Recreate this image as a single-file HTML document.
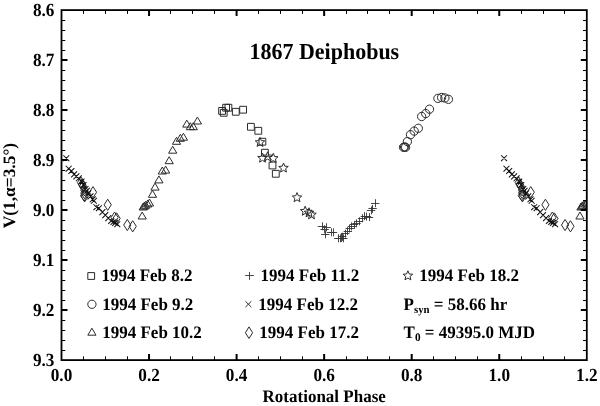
<!DOCTYPE html>
<html><head><meta charset="utf-8"><style>
html,body{margin:0;padding:0;background:#fff;}
svg{display:block;filter:grayscale(1);text-rendering:geometricPrecision;}
</style></head><body>
<svg width="600" height="406" viewBox="0 0 600 406">
<rect width="600" height="406" fill="#fff"/>
<defs><clipPath id="c"><rect x="61.50" y="10.10" width="525.30" height="350.00"/></clipPath></defs>
<g clip-path="url(#c)"><path d="M218.70 107.50h6.8v6.8h-6.8zM220.35 109.40h6.8v6.8h-6.8zM222.70 104.30h6.8v6.8h-6.8zM225.00 104.30h6.8v6.8h-6.8zM232.40 108.40h6.8v6.8h-6.8zM239.70 106.30h6.8v6.8h-6.8zM247.50 123.40h6.8v6.8h-6.8zM254.90 127.40h6.8v6.8h-6.8zM259.00 138.30h6.8v6.8h-6.8zM261.50 149.30h6.8v6.8h-6.8zM269.10 162.10h6.8v6.8h-6.8zM272.40 170.40h6.8v6.8h-6.8zM433.75 98.40a4.15 4.15 0 1 0 8.3 0a4.15 4.15 0 1 0 -8.3 0zM437.45 97.50a4.15 4.15 0 1 0 8.3 0a4.15 4.15 0 1 0 -8.3 0zM440.75 98.00a4.15 4.15 0 1 0 8.3 0a4.15 4.15 0 1 0 -8.3 0zM444.25 99.30a4.15 4.15 0 1 0 8.3 0a4.15 4.15 0 1 0 -8.3 0zM425.35 109.20a4.15 4.15 0 1 0 8.3 0a4.15 4.15 0 1 0 -8.3 0zM421.55 113.60a4.15 4.15 0 1 0 8.3 0a4.15 4.15 0 1 0 -8.3 0zM417.50 116.50a4.15 4.15 0 1 0 8.3 0a4.15 4.15 0 1 0 -8.3 0zM414.15 128.30a4.15 4.15 0 1 0 8.3 0a4.15 4.15 0 1 0 -8.3 0zM410.05 131.10a4.15 4.15 0 1 0 8.3 0a4.15 4.15 0 1 0 -8.3 0zM406.35 134.70a4.15 4.15 0 1 0 8.3 0a4.15 4.15 0 1 0 -8.3 0zM403.25 141.60a4.15 4.15 0 1 0 8.3 0a4.15 4.15 0 1 0 -8.3 0zM399.35 147.30a4.15 4.15 0 1 0 8.3 0a4.15 4.15 0 1 0 -8.3 0zM400.45 147.00a4.15 4.15 0 1 0 8.3 0a4.15 4.15 0 1 0 -8.3 0zM401.45 147.30a4.15 4.15 0 1 0 8.3 0a4.15 4.15 0 1 0 -8.3 0zM197.40 117.00L201.50 124.00H193.30zM186.80 120.10L190.90 127.10H182.70zM190.30 122.70L194.40 129.70H186.20zM193.30 122.70L197.40 129.70H189.20zM183.40 133.20L187.50 140.20H179.30zM180.30 134.30L184.40 141.30H176.20zM176.50 137.30L180.60 144.30H172.40zM172.70 146.20L176.80 153.20H168.60zM169.20 156.70L173.30 163.70H165.10zM165.60 166.10L169.70 173.10H161.50zM162.30 167.00L166.40 174.00H158.20zM158.90 175.90L163.00 182.90H154.80zM155.00 183.10L159.10 190.10H150.90zM592.75 183.10L596.85 190.10H588.65zM152.50 190.30L156.60 197.30H148.40zM590.25 190.30L594.35 197.30H586.15zM149.50 199.00L153.60 206.00H145.40zM587.25 199.00L591.35 206.00H583.15zM147.70 200.00L151.80 207.00H143.60zM585.45 200.00L589.55 207.00H581.35zM145.60 201.30L149.70 208.30H141.50zM583.35 201.30L587.45 208.30H579.25zM144.30 202.20L148.40 209.20H140.20zM582.05 202.20L586.15 209.20H577.95zM143.20 203.00L147.30 210.00H139.10zM580.95 203.00L585.05 210.00H576.85zM142.20 212.00L146.30 219.00H138.10zM579.95 212.00L584.05 219.00H575.85zM81.00 176.90L84.60 182.50L81.00 188.10L77.40 182.50zM518.75 176.90L522.35 182.50L518.75 188.10L515.15 182.50zM82.00 178.90L85.60 184.50L82.00 190.10L78.40 184.50zM519.75 178.90L523.35 184.50L519.75 190.10L516.15 184.50zM83.00 180.70L86.60 186.30L83.00 191.90L79.40 186.30zM520.75 180.70L524.35 186.30L520.75 191.90L517.15 186.30zM84.30 184.70L87.90 190.30L84.30 195.90L80.70 190.30zM522.05 184.70L525.65 190.30L522.05 195.90L518.45 190.30zM84.40 187.40L88.00 193.00L84.40 198.60L80.80 193.00zM522.15 187.40L525.75 193.00L522.15 198.60L518.55 193.00zM84.10 189.90L87.70 195.50L84.10 201.10L80.50 195.50zM521.85 189.90L525.45 195.50L521.85 201.10L518.25 195.50zM84.70 190.70L88.30 196.30L84.70 201.90L81.10 196.30zM522.45 190.70L526.05 196.30L522.45 201.90L518.85 196.30zM93.00 186.60L96.60 192.20L93.00 197.80L89.40 192.20zM530.75 186.60L534.35 192.20L530.75 197.80L527.15 192.20zM107.70 199.20L111.30 204.80L107.70 210.40L104.10 204.80zM545.45 199.20L549.05 204.80L545.45 210.40L541.85 204.80zM114.60 212.00L118.20 217.60L114.60 223.20L111.00 217.60zM552.35 212.00L555.95 217.60L552.35 223.20L548.75 217.60zM116.60 212.80L120.20 218.40L116.60 224.00L113.00 218.40zM554.35 212.80L557.95 218.40L554.35 224.00L550.75 218.40zM127.30 219.40L130.90 225.00L127.30 230.60L123.70 225.00zM565.05 219.40L568.65 225.00L565.05 230.60L561.45 225.00zM132.70 220.70L136.30 226.30L132.70 231.90L129.10 226.30zM570.45 220.70L574.05 226.30L570.45 231.90L566.85 226.30zM260.00 137.40L261.32 140.58L264.76 140.85L262.14 143.10L262.94 146.45L260.00 144.65L257.06 146.45L257.86 143.10L255.24 140.85L258.68 140.58zM262.50 153.10L263.82 156.28L267.26 156.55L264.64 158.80L265.44 162.15L262.50 160.35L259.56 162.15L260.36 158.80L257.74 156.55L261.18 156.28zM267.60 151.80L268.92 154.98L272.36 155.25L269.74 157.50L270.54 160.85L267.60 159.05L264.66 160.85L265.46 157.50L262.84 155.25L266.28 154.98zM273.30 153.30L274.62 156.48L278.06 156.75L275.44 159.00L276.24 162.35L273.30 160.55L270.36 162.35L271.16 159.00L268.54 156.75L271.98 156.48zM283.50 163.00L284.82 166.18L288.26 166.45L285.64 168.70L286.44 172.05L283.50 170.25L280.56 172.05L281.36 168.70L278.74 166.45L282.18 166.18zM297.00 192.60L298.32 195.78L301.76 196.05L299.14 198.30L299.94 201.65L297.00 199.85L294.06 201.65L294.86 198.30L292.24 196.05L295.68 195.78zM305.20 206.20L306.52 209.38L309.96 209.65L307.34 211.90L308.14 215.25L305.20 213.45L302.26 215.25L303.06 211.90L300.44 209.65L303.88 209.38zM309.00 207.80L310.32 210.98L313.76 211.25L311.14 213.50L311.94 216.85L309.00 215.05L306.06 216.85L306.86 213.50L304.24 211.25L307.68 210.98zM311.50 209.80L312.82 212.98L316.26 213.25L313.64 215.50L314.44 218.85L311.50 217.05L308.56 218.85L309.36 215.50L306.74 213.25L310.18 212.98z" fill="none" stroke="#2b2b2b" stroke-width="1.0" stroke-linejoin="miter"/><path d="M317.80 226.50h8.4M322.50 222.30v8.0M322.40 227.50h8.4M326.50 223.30v8.0M320.40 229.50h8.4M324.50 225.30v8.0M321.10 234.50h8.4M325.50 230.30v8.0M326.80 232.50h8.4M331.50 228.30v8.0M328.80 232.50h8.4M333.50 228.30v8.0M334.10 238.50h8.4M338.50 234.30v8.0M335.80 238.50h8.4M340.50 234.30v8.0M337.40 238.50h8.4M341.50 234.00v8.0M339.10 238.50h8.4M343.50 234.30v8.0M337.90 236.50h8.4M342.50 232.80v8.0M341.00 233.50h8.4M345.50 229.70v8.0M343.60 231.50h8.4M347.50 227.10v8.0M345.60 228.50h8.4M349.50 224.50v8.0M347.70 226.50h8.4M351.50 222.40v8.0M349.80 224.50h8.4M354.50 220.90v8.0M352.30 223.50h8.4M356.50 219.30v8.0M354.90 221.50h8.4M359.50 217.30v8.0M358.00 218.50h8.4M362.50 214.20v8.0M360.60 216.50h8.4M364.50 212.10v8.0M362.70 216.50h8.4M366.50 212.60v8.0M364.80 217.50h8.4M369.50 213.10v8.0M366.80 210.50h8.4M371.50 206.40v8.0M368.40 208.50h8.4M372.50 204.90v8.0M371.00 203.50h8.4M375.50 199.20v8.0" fill="none" stroke="#333" stroke-width="0.9"/><path d="M63.35 155.25l5.9 5.9M63.35 161.15l5.9 -5.9M501.10 155.25l5.9 5.9M501.10 161.15l5.9 -5.9M65.75 165.75l5.9 5.9M65.75 171.65l5.9 -5.9M503.50 165.75l5.9 5.9M503.50 171.65l5.9 -5.9M68.45 168.05l5.9 5.9M68.45 173.95l5.9 -5.9M506.20 168.05l5.9 5.9M506.20 173.95l5.9 -5.9M71.15 171.45l5.9 5.9M71.15 177.35l5.9 -5.9M508.90 171.45l5.9 5.9M508.90 177.35l5.9 -5.9M73.45 173.45l5.9 5.9M73.45 179.35l5.9 -5.9M511.20 173.45l5.9 5.9M511.20 179.35l5.9 -5.9M75.85 175.35l5.9 5.9M75.85 181.25l5.9 -5.9M513.60 175.35l5.9 5.9M513.60 181.25l5.9 -5.9M78.55 178.55l5.9 5.9M78.55 184.45l5.9 -5.9M516.30 178.55l5.9 5.9M516.30 184.45l5.9 -5.9M80.55 182.05l5.9 5.9M80.55 187.95l5.9 -5.9M518.30 182.05l5.9 5.9M518.30 187.95l5.9 -5.9M82.55 186.05l5.9 5.9M82.55 191.95l5.9 -5.9M520.30 186.05l5.9 5.9M520.30 191.95l5.9 -5.9M83.85 187.85l5.9 5.9M83.85 193.75l5.9 -5.9M521.60 187.85l5.9 5.9M521.60 193.75l5.9 -5.9M85.35 190.45l5.9 5.9M85.35 196.35l5.9 -5.9M523.10 190.45l5.9 5.9M523.10 196.35l5.9 -5.9M87.55 193.45l5.9 5.9M87.55 199.35l5.9 -5.9M525.30 193.45l5.9 5.9M525.30 199.35l5.9 -5.9M89.75 196.35l5.9 5.9M89.75 202.25l5.9 -5.9M527.50 196.35l5.9 5.9M527.50 202.25l5.9 -5.9M90.95 197.85l5.9 5.9M90.95 203.75l5.9 -5.9M528.70 197.85l5.9 5.9M528.70 203.75l5.9 -5.9M93.45 204.25l5.9 5.9M93.45 210.15l5.9 -5.9M531.20 204.25l5.9 5.9M531.20 210.15l5.9 -5.9M95.95 205.25l5.9 5.9M95.95 211.15l5.9 -5.9M533.70 205.25l5.9 5.9M533.70 211.15l5.9 -5.9M99.45 209.15l5.9 5.9M99.45 215.05l5.9 -5.9M537.20 209.15l5.9 5.9M537.20 215.05l5.9 -5.9M102.35 212.15l5.9 5.9M102.35 218.05l5.9 -5.9M540.10 212.15l5.9 5.9M540.10 218.05l5.9 -5.9M105.35 215.15l5.9 5.9M105.35 221.05l5.9 -5.9M543.10 215.15l5.9 5.9M543.10 221.05l5.9 -5.9M108.25 218.05l5.9 5.9M108.25 223.95l5.9 -5.9M546.00 218.05l5.9 5.9M546.00 223.95l5.9 -5.9M110.55 219.05l5.9 5.9M110.55 224.95l5.9 -5.9M548.30 219.05l5.9 5.9M548.30 224.95l5.9 -5.9M112.25 220.05l5.9 5.9M112.25 225.95l5.9 -5.9M550.00 220.05l5.9 5.9M550.00 225.95l5.9 -5.9M114.35 221.25l5.9 5.9M114.35 227.15l5.9 -5.9M552.10 221.25l5.9 5.9M552.10 227.15l5.9 -5.9" fill="none" stroke="#111" stroke-width="1.05"/></g>
<rect x="61.5" y="10.1" width="525.30" height="350.00" fill="none" stroke="#000" stroke-width="1.8"/>
<path d="M149.05 360.1v-6M149.05 10.1v6M236.60 360.1v-6M236.60 10.1v6M324.15 360.1v-6M324.15 10.1v6M411.70 360.1v-6M411.70 10.1v6M499.25 360.1v-6M499.25 10.1v6M61.5 60.10h6M586.8 60.10h-6M61.5 110.10h6M586.8 110.10h-6M61.5 160.10h6M586.8 160.10h-6M61.5 210.10h6M586.8 210.10h-6M61.5 260.10h6M586.8 260.10h-6M61.5 310.10h6M586.8 310.10h-6" stroke="#000" stroke-width="2" fill="none"/>
<path d="M83.50 360.1v-3.8M83.50 10.1v3.8M105.50 360.1v-3.8M105.50 10.1v3.8M127.50 360.1v-3.8M127.50 10.1v3.8M170.50 360.1v-3.8M170.50 10.1v3.8M192.50 360.1v-3.8M192.50 10.1v3.8M214.50 360.1v-3.8M214.50 10.1v3.8M258.50 360.1v-3.8M258.50 10.1v3.8M280.50 360.1v-3.8M280.50 10.1v3.8M302.50 360.1v-3.8M302.50 10.1v3.8M346.50 360.1v-3.8M346.50 10.1v3.8M367.50 360.1v-3.8M367.50 10.1v3.8M389.50 360.1v-3.8M389.50 10.1v3.8M433.50 360.1v-3.8M433.50 10.1v3.8M455.50 360.1v-3.8M455.50 10.1v3.8M477.50 360.1v-3.8M477.50 10.1v3.8M521.50 360.1v-3.8M521.50 10.1v3.8M543.50 360.1v-3.8M543.50 10.1v3.8M564.50 360.1v-3.8M564.50 10.1v3.8M61.5 20.50h3.8M586.8 20.50h-3.8M61.5 30.50h3.8M586.8 30.50h-3.8M61.5 40.50h3.8M586.8 40.50h-3.8M61.5 50.50h3.8M586.8 50.50h-3.8M61.5 70.50h3.8M586.8 70.50h-3.8M61.5 80.50h3.8M586.8 80.50h-3.8M61.5 90.50h3.8M586.8 90.50h-3.8M61.5 100.50h3.8M586.8 100.50h-3.8M61.5 120.50h3.8M586.8 120.50h-3.8M61.5 130.50h3.8M586.8 130.50h-3.8M61.5 140.50h3.8M586.8 140.50h-3.8M61.5 150.50h3.8M586.8 150.50h-3.8M61.5 170.50h3.8M586.8 170.50h-3.8M61.5 180.50h3.8M586.8 180.50h-3.8M61.5 190.50h3.8M586.8 190.50h-3.8M61.5 200.50h3.8M586.8 200.50h-3.8M61.5 220.50h3.8M586.8 220.50h-3.8M61.5 230.50h3.8M586.8 230.50h-3.8M61.5 240.50h3.8M586.8 240.50h-3.8M61.5 250.50h3.8M586.8 250.50h-3.8M61.5 270.50h3.8M586.8 270.50h-3.8M61.5 280.50h3.8M586.8 280.50h-3.8M61.5 290.50h3.8M586.8 290.50h-3.8M61.5 300.50h3.8M586.8 300.50h-3.8M61.5 320.50h3.8M586.8 320.50h-3.8M61.5 330.50h3.8M586.8 330.50h-3.8M61.5 340.50h3.8M586.8 340.50h-3.8M61.5 350.50h3.8M586.8 350.50h-3.8" stroke="#000" stroke-width="1" fill="none"/>
<g transform="translate(61.50,381.30) scale(1,1.07)"><text x="0" y="0" font-family="Liberation Serif" font-weight="bold" font-size="17.2" text-anchor="middle">0.0</text></g>
<g transform="translate(149.05,381.30) scale(1,1.07)"><text x="0" y="0" font-family="Liberation Serif" font-weight="bold" font-size="17.2" text-anchor="middle">0.2</text></g>
<g transform="translate(236.60,381.30) scale(1,1.07)"><text x="0" y="0" font-family="Liberation Serif" font-weight="bold" font-size="17.2" text-anchor="middle">0.4</text></g>
<g transform="translate(324.15,381.30) scale(1,1.07)"><text x="0" y="0" font-family="Liberation Serif" font-weight="bold" font-size="17.2" text-anchor="middle">0.6</text></g>
<g transform="translate(411.70,381.30) scale(1,1.07)"><text x="0" y="0" font-family="Liberation Serif" font-weight="bold" font-size="17.2" text-anchor="middle">0.8</text></g>
<g transform="translate(499.25,381.30) scale(1,1.07)"><text x="0" y="0" font-family="Liberation Serif" font-weight="bold" font-size="17.2" text-anchor="middle">1.0</text></g>
<g transform="translate(586.80,381.30) scale(1,1.07)"><text x="0" y="0" font-family="Liberation Serif" font-weight="bold" font-size="17.2" text-anchor="middle">1.2</text></g>
<g transform="translate(54.40,16.20) scale(1,1.08)"><text x="0" y="0" font-family="Liberation Serif" font-weight="bold" font-size="17.2" text-anchor="end">8.6</text></g>
<g transform="translate(54.40,66.20) scale(1,1.08)"><text x="0" y="0" font-family="Liberation Serif" font-weight="bold" font-size="17.2" text-anchor="end">8.7</text></g>
<g transform="translate(54.40,116.20) scale(1,1.08)"><text x="0" y="0" font-family="Liberation Serif" font-weight="bold" font-size="17.2" text-anchor="end">8.8</text></g>
<g transform="translate(54.40,166.20) scale(1,1.08)"><text x="0" y="0" font-family="Liberation Serif" font-weight="bold" font-size="17.2" text-anchor="end">8.9</text></g>
<g transform="translate(54.40,216.20) scale(1,1.08)"><text x="0" y="0" font-family="Liberation Serif" font-weight="bold" font-size="17.2" text-anchor="end">9.0</text></g>
<g transform="translate(54.40,266.20) scale(1,1.08)"><text x="0" y="0" font-family="Liberation Serif" font-weight="bold" font-size="17.2" text-anchor="end">9.1</text></g>
<g transform="translate(54.40,316.20) scale(1,1.08)"><text x="0" y="0" font-family="Liberation Serif" font-weight="bold" font-size="17.2" text-anchor="end">9.2</text></g>
<g transform="translate(54.40,366.20) scale(1,1.08)"><text x="0" y="0" font-family="Liberation Serif" font-weight="bold" font-size="17.2" text-anchor="end">9.3</text></g>
<g transform="translate(324.20,401.90) scale(1,1.03)"><text x="0" y="0" font-family="Liberation Serif" font-weight="bold" font-size="17" text-anchor="middle">Rotational Phase</text></g>
<g transform="translate(14.60,185.60) rotate(-90) scale(1,1.0)"><text x="0" y="0" font-family="Liberation Serif" font-weight="bold" font-size="17.4" text-anchor="middle">V(1,α=3.5°)</text></g>
<g transform="translate(324.30,59.30) scale(1,1.05)"><text x="0" y="0" font-family="Liberation Serif" font-weight="bold" font-size="22" text-anchor="middle">1867 Deiphobus</text></g>
<path d="M87.80 272.60h6.8v6.8h-6.8zM87.75 304.30a4.15 4.15 0 1 0 8.3 0a4.15 4.15 0 1 0 -8.3 0zM91.90 328.20L96.00 335.20H87.80zM245.45 301.25l5.9 5.9M245.45 307.15l5.9 -5.9M249.00 326.90L252.60 332.70L249.00 338.50L245.40 332.70zM407.90 270.80L409.22 273.98L412.66 274.25L410.04 276.50L410.84 279.85L407.90 278.05L404.96 279.85L405.76 276.50L403.14 274.25L406.58 273.98z" fill="none" stroke="#2b2b2b" stroke-width="1.0"/>
<path d="M245.20 275.50h8.6M249.50 271.90v8.0" fill="none" stroke="#333" stroke-width="0.9"/>
<g transform="translate(101.40,281.10) scale(1,1.03)"><text x="0" y="0" font-family="Liberation Serif" font-weight="bold" font-size="17">1994 Feb 8.2</text></g>
<g transform="translate(102.20,309.50) scale(1,1.03)"><text x="0" y="0" font-family="Liberation Serif" font-weight="bold" font-size="17">1994 Feb 9.2</text></g>
<g transform="translate(102.20,337.80) scale(1,1.03)"><text x="0" y="0" font-family="Liberation Serif" font-weight="bold" font-size="17">1994 Feb 10.2</text></g>
<g transform="translate(260.50,281.10) scale(1,1.03)"><text x="0" y="0" font-family="Liberation Serif" font-weight="bold" font-size="17">1994 Feb 11.2</text></g>
<g transform="translate(258.30,309.50) scale(1,1.03)"><text x="0" y="0" font-family="Liberation Serif" font-weight="bold" font-size="17">1994 Feb 12.2</text></g>
<g transform="translate(259.30,337.80) scale(1,1.03)"><text x="0" y="0" font-family="Liberation Serif" font-weight="bold" font-size="17">1994 Feb 17.2</text></g>
<g transform="translate(419.30,281.10) scale(1,1.03)"><text x="0" y="0" font-family="Liberation Serif" font-weight="bold" font-size="17">1994 Feb 18.2</text></g>
<g transform="translate(403.60,309.50) scale(1,1.03)"><text x="0" y="0" font-family="Liberation Serif" font-weight="bold" font-size="17">P<tspan font-size="10.8" dy="3.2">syn</tspan><tspan dy="-3.2"> = 58.66 hr</tspan></text></g>
<g transform="translate(403.60,337.80) scale(1,1.03)"><text x="0" y="0" font-family="Liberation Serif" font-weight="bold" font-size="17">T<tspan font-size="11.2" dy="3.0">0</tspan><tspan dy="-3.0"> = 49395.0 MJD</tspan></text></g>
</svg>
</body></html>
